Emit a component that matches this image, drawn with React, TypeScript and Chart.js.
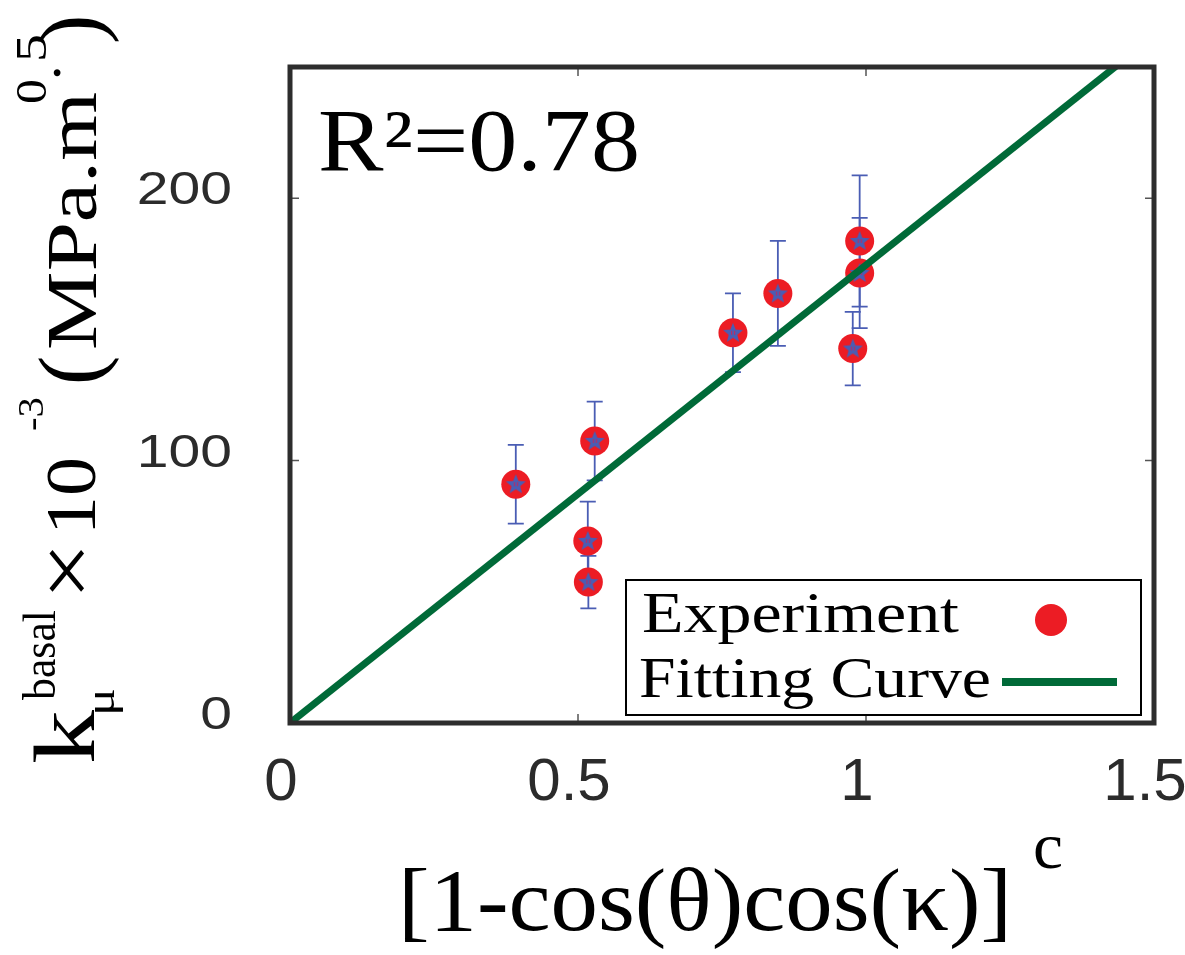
import React, { useEffect, useRef } from "react";
import { Chart, registerables } from "chart.js";

Chart.register(...registerables);

// ---- data ----
const expX = [0.392, 0.529, 0.517, 0.518, 0.769, 0.847, 0.989, 0.989, 0.977];
const expY = [91.0, 107.5, 69.4, 53.7, 148.7, 163.7, 183.7, 171.5, 142.7];
const expErr = [15, 15, 15, 10, 15, 20, 25, 21, 14];
const fitX = [0, 1.5];
const fitY = [0, 261.8];
const xRange = [0, 1.5];
const yRange = [0, 250];
const xStep = 0.5;
const yStep = 100;
const legendLabels = ["Experiment", "Fitting Curve"];
const r2Label = "R²=0.78";
const xTitleMain = "[1-cos(θ)cos(κ)]";
const xTitleSup = "c";

const RED = "#ec1c24";
const GREEN = "#006a38";
const BLUE = "#4a5db4";
const SERIF = "'Liberation Serif', 'DejaVu Serif', serif";
const SANS = "'Liberation Sans', Arial, sans-serif";

function makeStar(): HTMLCanvasElement {
  const c = document.createElement("canvas");
  c.width = 24;
  c.height = 24;
  const g = c.getContext("2d")!;
  g.beginPath();
  for (let i = 0; i < 10; i++) {
    const r = i % 2 === 0 ? 10.5 : 4.5;
    const a = -Math.PI / 2 + (i * Math.PI) / 5;
    const px = 12 + r * Math.cos(a);
    const py = 12.5 + r * Math.sin(a);
    if (i === 0) g.moveTo(px, py);
    else g.lineTo(px, py);
  }
  g.closePath();
  g.fillStyle = BLUE;
  g.fill();
  g.fillStyle = "#b0306a";
  g.fillRect(10, 10, 1.2, 4);
  g.fillRect(13, 10, 1.2, 4);
  return c;
}

function fitText(
  ctx: CanvasRenderingContext2D,
  text: string,
  x: number,
  y: number,
  size: number,
  family: string,
  targetW: number | null,
  align: "left" | "right" | "center" = "left",
  color = "#000"
) {
  ctx.save();
  ctx.font = `${size}px ${family}`;
  ctx.fillStyle = color;
  ctx.textBaseline = "alphabetic";
  ctx.textAlign = "left";
  const w = ctx.measureText(text).width;
  const sx = targetW ? targetW / w : 1;
  let x0 = x;
  if (align === "right") x0 = x - w * sx;
  else if (align === "center") x0 = x - (w * sx) / 2;
  ctx.translate(x0, y);
  ctx.scale(sx, 1);
  ctx.fillText(text, 0, 0);
  ctx.restore();
}

function rotText(
  ctx: CanvasRenderingContext2D,
  text: string,
  baseX: number,
  bottomY: number,
  size: number,
  family: string,
  targetLen: number | null
) {
  ctx.save();
  ctx.font = `${size}px ${family}`;
  ctx.fillStyle = "#000";
  ctx.textBaseline = "alphabetic";
  ctx.textAlign = "left";
  const w = ctx.measureText(text).width;
  const sx = targetLen ? targetLen / w : 1;
  ctx.translate(baseX, bottomY);
  ctx.rotate(-Math.PI / 2);
  ctx.scale(sx, 1);
  ctx.fillText(text, 0, 0);
  ctx.restore();
}

const isStep = (v: number, step: number) => Math.abs(v / step - Math.round(v / step)) < 1e-6;

const decorPlugin = {
  id: "decor",
  beforeDatasetsDraw(chart: any) {
    const { ctx, scales } = chart;
    const x = scales.x;
    const y = scales.y;
    ctx.save();
    ctx.strokeStyle = BLUE;
    ctx.lineWidth = 1.8;
    const cap = 8;
    expX.forEach((xv, i) => {
      const px = x.getPixelForValue(xv);
      const top = y.getPixelForValue(expY[i] + expErr[i]);
      const bot = y.getPixelForValue(expY[i] - expErr[i]);
      ctx.beginPath();
      ctx.moveTo(px, top);
      ctx.lineTo(px, bot);
      ctx.moveTo(px - cap, top);
      ctx.lineTo(px + cap, top);
      ctx.moveTo(px - cap, bot);
      ctx.lineTo(px + cap, bot);
      ctx.stroke();
    });
    ctx.restore();
  },
  afterDraw(chart: any) {
    const { ctx, chartArea: a, scales } = chart;
    const x = scales.x;
    const y = scales.y;
    ctx.save();

    // inner tick marks
    ctx.strokeStyle = "#555";
    ctx.lineWidth = 1.5;
    x.ticks.forEach((t: any, i: number) => {
      const px = x.getPixelForTick(i);
      if (px <= a.left + 1 || px >= a.right - 1) return;
      ctx.beginPath();
      ctx.moveTo(px, a.bottom);
      ctx.lineTo(px, a.bottom - 9);
      ctx.moveTo(px, a.top);
      ctx.lineTo(px, a.top + 9);
      ctx.stroke();
    });
    y.ticks.forEach((t: any, i: number) => {
      const py = y.getPixelForTick(i);
      if (py >= a.bottom - 1 || py <= a.top + 1) return;
      ctx.beginPath();
      ctx.moveTo(a.left, py);
      ctx.lineTo(a.left + 9, py);
      ctx.moveTo(a.right, py);
      ctx.lineTo(a.right - 9, py);
      ctx.stroke();
    });

    // frame
    ctx.strokeStyle = "#2d2d2d";
    ctx.lineWidth = 5;
    ctx.strokeRect(a.left, a.top, a.right - a.left, a.bottom - a.top);

    // tick labels
    x.ticks.forEach((t: any, i: number) => {
      if (!isStep(t.value, xStep)) return;
      const px = x.getPixelForTick(i);
      fitText(ctx, String(t.value), px - 9, a.bottom + 77, 60, SANS, null, "center", "#2b2b2b");
    });
    y.ticks.forEach((t: any, i: number) => {
      if (!isStep(t.value, yStep)) return;
      const py = y.getPixelForTick(i);
      const label = String(t.value);
      ctx.save();
      ctx.font = `46px ${SANS}`;
      const w = ctx.measureText(label).width;
      ctx.restore();
      fitText(ctx, label, 232, py + 6, 46, SANS, w * 1.24, "right", "#2b2b2b");
    });

    // R^2 annotation
    fitText(ctx, r2Label, 318, 170, 88, SERIF, 322, "left", "#000");

    // legend box
    ctx.fillStyle = "#fff";
    ctx.fillRect(626, 580, 515, 135);
    ctx.strokeStyle = "#000";
    ctx.lineWidth = 2;
    ctx.strokeRect(626, 580, 515, 135);
    fitText(ctx, legendLabels[0], 642, 632, 58, SERIF, 317, "left", "#000");
    fitText(ctx, legendLabels[1], 639, 697, 58, SERIF, 352, "left", "#000");
    ctx.fillStyle = RED;
    ctx.beginPath();
    ctx.arc(1051, 620, 16, 0, Math.PI * 2);
    ctx.fill();
    ctx.strokeStyle = GREEN;
    ctx.lineWidth = 8;
    ctx.beginPath();
    ctx.moveTo(1002, 682);
    ctx.lineTo(1117, 682);
    ctx.stroke();

    // x-axis title
    fitText(ctx, xTitleMain, 398, 930, 88, SERIF, 614, "left", "#000");
    fitText(ctx, xTitleSup, 1033, 868, 66, SERIF, 30, "left", "#000");

    // y-axis title (rotated, reads bottom to top)
    rotText(ctx, "k", 94, 764, 86, SERIF, 54);
    rotText(ctx, "μ", 114, 716, 40, SERIF, 28);
    rotText(ctx, "basal", 55, 700, 47, SERIF, 90);
    rotText(ctx, "×", 95, 600, 84, SERIF, 58);
    rotText(ctx, "10", 95, 535, 72, SERIF, 78);
    rotText(ctx, "-3", 43, 431, 36, SERIF, 34);
    rotText(ctx, "(", 100, 385, 88, SERIF, null);
    rotText(ctx, "MPa.m", 96, 350, 72, SERIF, 258);
    rotText(ctx, "0", 46, 104, 44, SERIF, 25);
    rotText(ctx, ".", 60, 80, 58, SERIF, null);
    rotText(ctx, "5", 46, 62, 44, SERIF, 28);
    rotText(ctx, ")", 100, 44, 88, SERIF, null);

    ctx.restore();
  },
};

export default function App() {
  const ref = useRef<HTMLCanvasElement | null>(null);

  useEffect(() => {
    if (!ref.current) return;
    const star = makeStar();
    const expPoints = expX.map((xv, i) => ({ x: xv, y: expY[i] }));
    const fitPoints = fitX.map((xv, i) => ({ x: xv, y: fitY[i] }));
    const chart = new Chart(ref.current, {
      type: "scatter",
      data: {
        datasets: [
          {
            label: legendLabels[1],
            data: fitPoints,
            showLine: true,
            borderColor: GREEN,
            borderWidth: 7,
            pointRadius: 0,
            fill: false,
            clip: 0,
          } as any,
          {
            label: legendLabels[0] + " star",
            data: expPoints,
            pointStyle: star as any,
            pointRadius: 10,
            showLine: false,
          },
          {
            label: legendLabels[0],
            data: expPoints,
            pointRadius: 14.5,
            pointBackgroundColor: RED,
            pointBorderWidth: 0,
            borderColor: RED,
            showLine: false,
          },
        ],
      },
      options: {
        responsive: false,
        animation: false,
        events: [],
        layout: { padding: { left: 290, right: 31, top: 67, bottom: 232 } },
        scales: {
          x: {
            type: "linear",
            min: xRange[0],
            max: xRange[1],
            ticks: { display: false, stepSize: xStep },
            grid: { display: false },
            border: { display: false },
            afterFit: (s: any) => {
              s.height = 0;
            },
          },
          y: {
            type: "linear",
            min: yRange[0],
            max: yRange[1],
            ticks: { display: false, stepSize: yStep },
            grid: { display: false },
            border: { display: false },
            afterFit: (s: any) => {
              s.width = 0;
            },
          },
        },
        plugins: {
          legend: { display: false },
          tooltip: { enabled: false },
        },
      },
      plugins: [decorPlugin],
    });
    return () => chart.destroy();
  }, []);

  return (
    <div style={{ position: "absolute", left: 0, top: 0, width: 1185, height: 955, background: "#fff" }}>
      <canvas ref={ref} width={1185} height={955} style={{ width: 1185, height: 955, display: "block" }} />
    </div>
  );
}
